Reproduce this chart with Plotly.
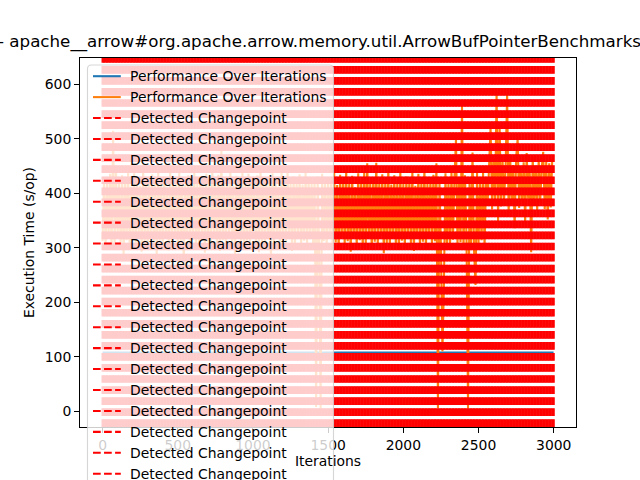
import plotly.graph_objects as go

# ---------------- data ----------------
title_text = "- apache__arrow#org.apache.arrow.memory.util.ArrowBufPointerBenchmarks"
series_names = ["Performance Over Iterations", "Performance Over Iterations"]
changepoint_label = "Detected Changepoint"
x_title = "Iterations"
y_title = "Execution Time (s/op)"

# first (blue) series: flat at ~108 over the whole run
blue_iter = [0, 2999]
blue_time = [108, 108]

# second (orange) series, sampled every 10 iterations (estimated envelope)
orange_time = [
    312, 428, 301, 419, 318, 436, 296, 515, 309, 442,
    322, 417, 305, 433, 288, 425, 314, 440, 299, 412,
    316, 437, 302, 423, 327, 414, 293, 446, 310, 429,
    298, 418, 320, 435, 306, 422, 284, 439, 313, 416,
    304, 431, 317, 411, 295, 444, 309, 426, 321, 419,
    300, 438, 312, 424, 268, 415, 318, 433, 303, 427,
    315, 442, 297, 418, 308, 430, 323, 413, 291, 436,
    311, 425, 302, 447, 319, 420, 306, 434, 294, 480,
    314, 417, 300, 429, 325, 438, 309, 414, 287, 432,
    317, 423, 305, 441, 296, 419, 313, 436, 301, 427,
    320, 415, 308, 433, 292, 445, 311, 421, 303, 430,
    316, 418, 275, 437, 307, 424, 319, 412, 298, 439,
    310, 426, 302, 443, 318, 417, 294, 431, 306, 422,
    321, 435, 299, 416, 313, 440, 304, 428, 317, 419,
    306, 427, 8, 431, 298, 5, 436, 312, 419, 303,
    429, 316, 421, 300, 438, 310, 415, 297, 434, 319,
    426, 305, 443, 312, 418, 293, 432, 320, 411, 302,
    437, 314, 424, 299, 440, 308, 455, 317, 421, 296,
    430, 311, 456, 304, 419, 322, 435, 290, 427, 309,
    444, 301, 416, 318, 433, 306, 422, 296, 439, 313,
    417, 300, 431, 321, 425, 308, 442, 294, 414, 316,
    436, 303, 423, 311, 447, 298, 418, 319, 429, 305,
    434, 312, 455, 6, 424, 302, 110, 235, 437, 309,
    421, 297, 440, 315, 428, 500, 306, 419, 310, 560,
    300, 433, 318, 5, 426, 305, 475, 296, 232, 438,
    309, 422, 314, 441, 302, 429, 378, 446, 522, 371,
    463, 384, 585, 348, 525, 376, 458, 387, 449, 585,
    364, 471, 380, 452, 336, 466, 500, 373, 448, 385,
    457, 344, 474, 390, 445, 292, 468, 377, 451, 368,
    462, 383, 447, 476, 371, 458, 352, 455, 374, 463,
]
orange_iter = [10 * i for i in range(len(orange_time))]  # iteration index

# detected changepoints: flagged at (virtually) every step of the run
changepoints = [
    0, 10, 20, 30, 40, 50, 60, 70, 80, 90, 100, 110, 120, 130, 140, 150, 160, 170, 180, 190,
    200, 210, 220, 230, 240, 250, 260, 270, 280, 290, 300, 310, 320, 330, 340, 350, 360, 370, 380, 390,
    400, 410, 420, 430, 440, 450, 460, 470, 480, 490, 500, 510, 520, 530, 540, 550, 560, 570, 580, 590,
    600, 610, 620, 630, 640, 650, 660, 670, 680, 690, 700, 710, 720, 730, 740, 750, 760, 770, 780, 790,
    800, 810, 820, 830, 840, 850, 860, 870, 880, 890, 900, 910, 920, 930, 940, 950, 960, 970, 980, 990,
    1000, 1010, 1020, 1030, 1040, 1050, 1060, 1070, 1080, 1090, 1100, 1110, 1120, 1130, 1140, 1150, 1160, 1170, 1180, 1190,
    1200, 1210, 1220, 1230, 1240, 1250, 1260, 1270, 1280, 1290, 1300, 1310, 1320, 1330, 1340, 1350, 1360, 1370, 1380, 1390,
    1400, 1410, 1420, 1430, 1440, 1450, 1460, 1470, 1480, 1490, 1500, 1510, 1520, 1530, 1540, 1550, 1560, 1570, 1580, 1590,
    1600, 1610, 1620, 1630, 1640, 1650, 1660, 1670, 1680, 1690, 1700, 1710, 1720, 1730, 1740, 1750, 1760, 1770, 1780, 1790,
    1800, 1810, 1820, 1830, 1840, 1850, 1860, 1870, 1880, 1890, 1900, 1910, 1920, 1930, 1940, 1950, 1960, 1970, 1980, 1990,
    2000, 2010, 2020, 2030, 2040, 2050, 2060, 2070, 2080, 2090, 2100, 2110, 2120, 2130, 2140, 2150, 2160, 2170, 2180, 2190,
    2200, 2210, 2220, 2230, 2240, 2250, 2260, 2270, 2280, 2290, 2300, 2310, 2320, 2330, 2340, 2350, 2360, 2370, 2380, 2390,
    2400, 2410, 2420, 2430, 2440, 2450, 2460, 2470, 2480, 2490, 2500, 2510, 2520, 2530, 2540, 2550, 2560, 2570, 2580, 2590,
    2600, 2610, 2620, 2630, 2640, 2650, 2660, 2670, 2680, 2690, 2700, 2710, 2720, 2730, 2740, 2750, 2760, 2770, 2780, 2790,
    2800, 2810, 2820, 2830, 2840, 2850, 2860, 2870, 2880, 2890, 2900, 2910, 2920, 2930, 2940, 2950, 2960, 2970, 2980, 2990,
    3000,
]

x_ticks = [0, 500, 1000, 1500, 2000, 2500, 3000]
y_ticks = [0, 100, 200, 300, 400, 500, 600]

# ---------------- layout geometry ----------------
W, H = 640, 480
ML, MR, MT, MB = 80, 64, 58, 53
PW, PH = W - ML - MR, H - MT - MB

x_range = [-150, 3148]
y_range = [-28.8, 648.3]

FONT = "DejaVu Sans"
BLUE, ORANGE, RED = "#1f77b4", "#ff7f0e", "#ff0000"
LW = 2.08
DASH = "7.71px,3.33px"


def px_x(px):
    return (px - ML) / PW


def px_y(py):
    return (H - MB - py) / PH


fig = go.Figure()
fig.add_trace(go.Scatter(x=blue_iter, y=blue_time, mode="lines", name=series_names[0],
                         line=dict(color=BLUE, width=LW)))
fig.add_trace(go.Scatter(x=orange_iter, y=orange_time, mode="lines", name=series_names[1],
                         line=dict(color=ORANGE, width=LW)))

shapes = []
# vertical dashed changepoint lines (axvline style: full axes height, dash from bottom)
for c in changepoints:
    shapes.append(dict(type="line", xref="x", yref="paper", x0=c, x1=c, y0=0, y1=1,
                       line=dict(color=RED, width=LW, dash=DASH), layer="above"))

# legend box (semi-transparent, rounded top corners, runs off the bottom)
bx0, bx1, by0, by1, r = 87.5, 333.5, 65.0, 500.0, 4.0
path = (f"M {px_x(bx0)},{px_y(by1)} L {px_x(bx0)},{px_y(by0 + r)} "
        f"Q {px_x(bx0)},{px_y(by0)} {px_x(bx0 + r)},{px_y(by0)} "
        f"L {px_x(bx1 - r)},{px_y(by0)} "
        f"Q {px_x(bx1)},{px_y(by0)} {px_x(bx1)},{px_y(by0 + r)} "
        f"L {px_x(bx1)},{px_y(by1)} Z")
shapes.append(dict(type="path", xref="paper", yref="paper", path=path,
                   fillcolor="rgba(255,255,255,0.8)",
                   line=dict(color="rgba(204,204,204,0.8)", width=1.1), layer="above"))

annotations = []
entries = [(series_names[0], BLUE, "solid"), (series_names[1], ORANGE, "solid")]
n_entries = 20
while len(entries) < n_entries:
    entries.append((changepoint_label, RED, DASH))
for k, (label, color, dash) in enumerate(entries):
    yc = 76.2 + 20.92 * k
    shapes.append(dict(type="line", xref="paper", yref="paper",
                       x0=px_x(93.0), x1=px_x(120.8), y0=px_y(yc), y1=px_y(yc),
                       line=dict(color=color, width=LW, dash=dash), layer="above"))
    annotations.append(dict(xref="paper", yref="paper", x=px_x(127.5), y=px_y(yc),
                            xanchor="left", yanchor="middle", showarrow=False, text=label,
                            font=dict(family=FONT, size=13.9, color="black")))

annotations.append(dict(xref="paper", yref="paper", x=px_x(319.5), y=px_y(41.0),
                        xanchor="center", yanchor="middle", showarrow=False, text=title_text,
                        font=dict(family=FONT, size=16.7, color="black")))

axis_common = dict(showline=True, linecolor="black", linewidth=1.1, mirror=True,
                   ticks="outside", ticklen=4.9, tickwidth=1.1, tickcolor="black",
                   showgrid=False, zeroline=False,
                   tickfont=dict(family=FONT, size=13.9, color="black"))

fig.update_layout(
    width=W, height=H,
    margin=dict(l=ML, r=MR, t=MT, b=MB, pad=0),
    paper_bgcolor="white", plot_bgcolor="white",
    showlegend=False,
    font=dict(family=FONT, size=13.9, color="black"),
    xaxis=dict(range=x_range, tickvals=x_ticks, ticktext=[str(v) for v in x_ticks],
               title=dict(text=x_title, standoff=4, font=dict(family=FONT, size=13.9)),
               **axis_common),
    yaxis=dict(range=y_range, tickvals=y_ticks, ticktext=[str(v) for v in y_ticks],
               title=dict(text=y_title, standoff=6, font=dict(family=FONT, size=13.9)),
               **axis_common),
    shapes=shapes,
    annotations=annotations,
)

fig.write_html("out.html")
